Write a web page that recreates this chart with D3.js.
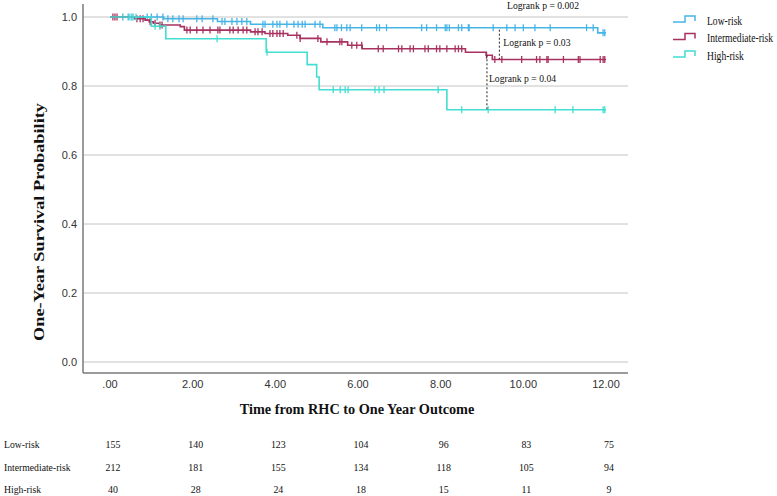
<!DOCTYPE html>
<html>
<head>
<meta charset="utf-8">
<script src="https://cdn.jsdelivr.net/npm/d3@7"></script>
<style>
  body { margin: 0; background: #fff; }
  svg { display: block; }
</style>
</head>
<body>
<div id="chart"></div>
<script>
// groups
const groups = ["Low-risk", "Intermediate-risk", "High-risk"];
const colors = ["#47b4e6", "#a8315f", "#43ddd2"];

// KM step points [time, survival]
const lowSteps = [[0, 1], [1.3, 0.995], [2.6, 0.987], [3.4, 0.979], [5.15, 0.969], [11.8, 0.954]];
const midSteps = [[0, 1], [0.6, 0.995], [0.85, 0.991], [0.95, 0.986], [1.05, 0.982], [1.2, 0.977],
  [1.7, 0.972], [1.8, 0.962], [3.4, 0.957], [3.75, 0.952], [4.3, 0.947], [4.6, 0.938],
  [5.1, 0.928], [5.75, 0.918], [6.1, 0.908], [8.6, 0.898], [9.1, 0.889], [9.25, 0.877]];
const highSteps = [[0, 1], [1.0, 0.973], [1.35, 0.937], [3.78, 0.898], [4.77, 0.862],
  [5.0, 0.826], [5.06, 0.789], [8.15, 0.731]];

// censored times
const lowCens = [0.31, 0.44, 0.53, 0.9, 1.0, 1.14, 1.28, 1.4, 1.52, 1.67, 1.77, 2.1, 2.23, 2.49,
  2.71, 2.78, 2.95, 3.07, 3.19, 3.31, 3.7, 3.75, 3.94, 4.04, 4.11, 4.28, 4.45, 4.55, 4.65, 4.72,
  4.96, 5.08, 5.44, 5.49, 5.6, 5.73, 5.81, 6.09, 6.45, 6.52, 6.69, 7.54, 7.66, 7.9, 8.11, 8.15,
  8.21, 8.43, 8.51, 8.67, 8.69, 9.27, 9.6, 9.8, 10.0, 10.28, 10.65, 11.53, 11.69, 11.93, 11.97];
const midCens = [0.07, 0.12, 0.17, 0.65, 0.73, 0.8, 0.97, 1.09, 1.21, 1.26, 1.86, 1.94, 2.1, 2.25,
  2.42, 2.61, 2.66, 2.9, 2.98, 3.1, 3.22, 3.31, 3.51, 3.58, 3.68, 3.87, 3.94, 4.04, 4.11, 4.19,
  4.52, 4.6, 5.03, 5.25, 5.56, 5.61, 5.85, 5.97, 6.09, 6.49, 6.61, 6.98, 7.06, 7.26, 7.34, 7.62,
  7.7, 7.9, 7.98, 8.15, 8.35, 8.43, 8.51, 9.11, 9.31, 9.48, 9.96, 10.32, 10.4, 10.57, 10.6,
  10.97, 11.33, 11.37, 11.86, 11.93, 11.97];
const highCens = [0.48, 0.56, 0.63, 1.09, 1.21, 2.59, 3.8, 5.4, 5.57, 5.69, 5.76, 6.41, 6.51,
  6.63, 7.94, 8.51, 9.15, 10.77, 11.2, 11.93, 11.97];

// number at risk
const riskTimes = [0, 2, 4, 6, 8, 10, 12];
const lowRisk = [155, 140, 123, 104, 96, 83, 75];
const midRisk = [212, 181, 155, 134, 118, 105, 94];
const highRisk = [40, 28, 24, 18, 15, 11, 9];

const xTicks = [0, 2, 4, 6, 8, 10, 12];
const yTicks = [0, 0.2, 0.4, 0.6, 0.8, 1.0];

const width = 777, height = 496;
const serif = "'Liberation Serif', 'Times New Roman', serif";
const sans = "'Liberation Sans', Arial, sans-serif";

const x = d3.scaleLinear().domain([0, 12]).range([110, 606]);
const y = d3.scaleLinear().domain([0, 1]).range([362, 17]);
const plotL = 83, plotR = 628, axisY = 373;

const svg = d3.select("#chart").append("svg")
    .attr("width", width).attr("height", height)
    .attr("viewBox", [0, 0, width, height]);

// squeeze serif text a bit, the source font is narrower
function squeeze(sel, k) {
  sel.each(function() {
    const w = this.getComputedTextLength();
    d3.select(this).attr("textLength", w * k).attr("lengthAdjust", "spacingAndGlyphs");
  });
}

// grid
svg.append("g").selectAll("line")
    .data(yTicks).join("line")
    .attr("x1", plotL).attr("x2", plotR)
    .attr("y1", d => y(d)).attr("y2", d => y(d))
    .attr("stroke", "#c4c4c4").attr("stroke-width", 1);

// axes lines
svg.append("line").attr("x1", plotL).attr("x2", plotL).attr("y1", 4).attr("y2", axisY)
    .attr("stroke", "#7a7a7a").attr("stroke-width", 1.5);
svg.append("line").attr("x1", plotL).attr("x2", plotR).attr("y1", axisY).attr("y2", axisY)
    .attr("stroke", "#7a7a7a").attr("stroke-width", 1.5);

// y tick labels
svg.append("g").selectAll("text")
    .data(yTicks).join("text")
    .attr("x", 77).attr("y", d => y(d))
    .attr("dy", "0.35em").attr("text-anchor", "end")
    .style("font", `11px ${sans}`).attr("fill", "#333")
    .text(d3.format(".1f"));

// x tick labels
svg.append("g").selectAll("text")
    .data(xTicks).join("text")
    .attr("x", d => x(d)).attr("y", 384)
    .attr("dy", "0.35em").attr("text-anchor", "middle")
    .style("font", `11px ${sans}`).attr("fill", "#333")
    .text(d => d3.format(".2f")(d).replace(/^0/, ""));

// axis titles
svg.append("text").attr("x", 357).attr("y", 414).attr("text-anchor", "middle")
    .style("font", `bold 15px ${serif}`).attr("fill", "#111")
    .text("Time from RHC to One Year Outcome")
    .call(squeeze, 0.95);
svg.append("text").attr("transform", "translate(44,222) rotate(-90)").attr("text-anchor", "middle")
    .style("font", `bold 15px ${serif}`).attr("fill", "#111")
    .attr("textLength", 238).attr("lengthAdjust", "spacingAndGlyphs")
    .text("One-Year Survival Probability");

// curves
const series = [
  {steps: lowSteps, cens: lowCens},
  {steps: midSteps, cens: midCens},
  {steps: highSteps, cens: highCens}
];
const line = d3.line().x(d => x(d[0])).y(d => y(d[1])).curve(d3.curveStepAfter);

function survAt(steps, t) {
  let v = steps[0][1];
  for (const s of steps) if (s[0] <= t) v = s[1];
  return v;
}

series.forEach((s, i) => {
  const pts = s.steps.concat([[12, s.steps[s.steps.length - 1][1]]]);
  const g = svg.append("g");
  g.append("path").datum(pts)
      .attr("d", line).attr("fill", "none")
      .attr("stroke", colors[i]).attr("stroke-width", 1.6);
  g.selectAll("line").data(s.cens).join("line")
      .attr("x1", d => x(d)).attr("x2", d => x(d))
      .attr("y1", d => y(survAt(s.steps, d)) - 3.5)
      .attr("y2", d => y(survAt(s.steps, d)) + 3.5)
      .attr("stroke", colors[i]).attr("stroke-width", 1.3);
});

// logrank annotations
const ann = svg.append("g").style("font", `10.5px ${serif}`).attr("fill", "#111");
ann.append("text").attr("x", 507).attr("y", 9).text("Logrank  p = 0.002").call(squeeze, 0.92);
ann.append("line")
    .attr("x1", x(9.42)).attr("x2", x(9.42))
    .attr("y1", y(survAt(lowSteps, 9.42)) + 2).attr("y2", y(survAt(midSteps, 9.42)))
    .attr("stroke", "#222").attr("stroke-dasharray", "2,2");
ann.append("text").attr("x", x(9.42) + 4).attr("y", 46).text("Logrank p = 0.03").call(squeeze, 0.92);
ann.append("line")
    .attr("x1", x(9.12)).attr("x2", x(9.12))
    .attr("y1", y(survAt(midSteps, 9.12))).attr("y2", y(survAt(highSteps, 9.12)))
    .attr("stroke", "#222").attr("stroke-dasharray", "2,2");
ann.append("text").attr("x", x(9.12) + 2).attr("y", 82).text("Logrank p = 0.04").call(squeeze, 0.92);

// legend
const leg = svg.append("g").selectAll("g").data(groups).join("g")
    .attr("transform", (d, i) => `translate(673,${21 + i * 17.5})`);
leg.append("path")
    .attr("d", "M0,1H12V-5H22V0")
    .attr("fill", "none").attr("stroke", (d, i) => colors[i]).attr("stroke-width", 1.5);
leg.append("text")
    .attr("transform", "translate(34,0) scale(0.8,1)")
    .attr("dy", "0.32em")
    .style("font", `12px ${serif}`).attr("fill", "#111")
    .text(d => d);

// number at risk table
const riskRows = [lowRisk, midRisk, highRisk];
const rowY = [444, 467, 489];
const tbl = svg.append("g").style("font", `11px ${serif}`).attr("fill", "#111");
groups.forEach((gname, i) => {
  tbl.append("text").attr("x", 4).attr("y", rowY[i]).attr("dy", "0.35em").text(gname)
      .call(squeeze, 0.88);
  tbl.append("g").selectAll("text").data(riskRows[i]).join("text")
      .attr("x", (d, j) => x(riskTimes[j]) + 3).attr("y", rowY[i])
      .attr("dy", "0.35em").attr("text-anchor", "middle")
      .text(d => d)
      .call(squeeze, 0.9);
});
</script>
</body>
</html>
